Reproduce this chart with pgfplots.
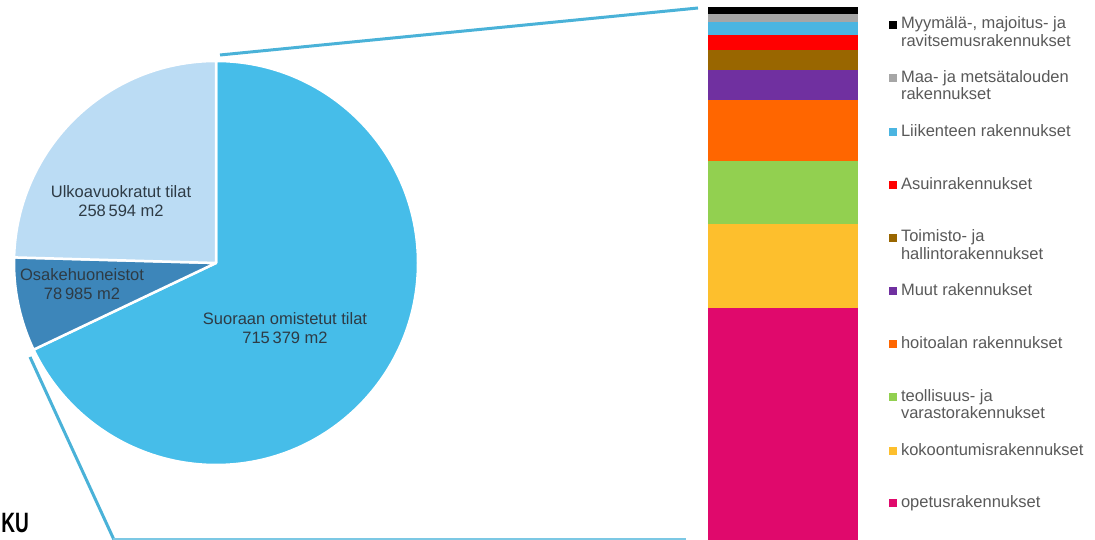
\documentclass[border=0pt]{standalone}
\usepackage{fontspec}
\setmainfont{Liberation Sans}
\usepackage{pgfplots}
\pgfplotsset{compat=1.18}
\usepackage{pgfplotstable}

\definecolor{cSuor}{HTML}{46BDE9}
\definecolor{cOsak}{HTML}{3D86BA}
\definecolor{cUlko}{HTML}{BBDCF4}
\definecolor{cLine}{HTML}{4AB2D8}
\definecolor{cLineB}{HTML}{7CC8E4}
\definecolor{cMyy}{HTML}{000000}
\definecolor{cMaa}{HTML}{A6A6A6}
\definecolor{cLii}{HTML}{4BB5E1}
\definecolor{cAsu}{HTML}{FF0000}
\definecolor{cToi}{HTML}{996600}
\definecolor{cMuu}{HTML}{7030A0}
\definecolor{cHoi}{HTML}{FF6600}
\definecolor{cTeo}{HTML}{92D050}
\definecolor{cKok}{HTML}{FDBF2D}
\definecolor{cOpe}{HTML}{E0096C}
\definecolor{cLeg}{HTML}{595959}
\definecolor{cLab}{HTML}{2E3B45}

% pie: floor area (m2)
\pgfplotstableread{
name value
Suoraan 715379
Osake 78985
Ulko 258594
}\pietable

% bar of pie: share of directly owned space (%)
\pgfplotstableread{
x ope kok teo hoi muu toi asu lii maa myy
0 43.5 15.8 11.8 11.5 5.5 3.9 2.8 2.3 1.6 1.3
}\bartable

\pgfplotstablegetelem{0}{value}\of\pietable \let\vA\pgfplotsretval
\pgfplotstablegetelem{1}{value}\of\pietable \let\vB\pgfplotsretval
\pgfplotstablegetelem{2}{value}\of\pietable \let\vC\pgfplotsretval
\edef\eA{\fpeval{90-360*\vA/(\vA+\vB+\vC)}}
\edef\eB{\fpeval{\eA-360*\vB/(\vA+\vB+\vC)}}
\edef\eC{\fpeval{\eB-360*\vC/(\vA+\vB+\vC)}}

\newcommand{\leg}[1]{\rule[-22pt]{0pt}{52.9pt}\begin{tabular}[t]{@{}l@{}}#1\end{tabular}}

\begin{document}
\begin{tikzpicture}
\useasboundingbox (0,0) rectangle (1095pt,540pt);
\clip (0,0) rectangle (1095pt,540pt);

\begin{axis}[at={(0pt,0pt)}, anchor=south west, x=1pt, y=1pt,
  xmin=0, xmax=1095, ymin=0, ymax=540, hide axis, clip=false]
  % connector lines
  \draw[cLine, line width=3pt] (axis cs:220,485) -- (axis cs:698,532);
  \draw[cLine, line width=3pt] (axis cs:30,183) -- (axis cs:115,-2);
  \draw[cLineB, line width=2pt] (axis cs:113,1) -- (axis cs:686,1);
  % pie
  \begin{scope}[line width=2.5pt, draw=white, line join=round]
  \filldraw[fill=cSuor] (axis cs:216,277) -- ++(90:202pt) arc[start angle=90, end angle=\eA, radius=202pt] -- cycle;
  \filldraw[fill=cOsak] (axis cs:216,277) -- ++(\eA:202pt) arc[start angle=\eA, end angle=\eB, radius=202pt] -- cycle;
  \filldraw[fill=cUlko] (axis cs:216,277) -- ++(\eB:202pt) arc[start angle=\eB, end angle=\eC, radius=202pt] -- cycle;
  \end{scope}
  \begin{scope}[every node/.style={align=center, text=cLab, font=\fontsize{16.5}{19}\selectfont, inner sep=0pt}]
  \node at (axis cs:121,339) {Ulkoavuokratut tilat\\258\,594 m2};
  \node at (axis cs:82,256) {Osakehuoneistot\\78\,985 m2};
  \node at (axis cs:285,212) {Suoraan omistetut tilat\\715\,379 m2};
  \end{scope}
  \node[anchor=base east, font=\fontsize{28}{28}\selectfont\bfseries, xscale=0.68, inner sep=0pt] at (axis cs:29,7) {KU};
\end{axis}

\begin{axis}[at={(708pt,0pt)}, anchor=south west, scale only axis,
  width=150pt, height=533pt, xmin=-0.5, xmax=0.5, ymin=0, ymax=100,
  ybar stacked, bar width=150pt, hide axis, clip=false,
  reverse legend, legend cell align=left,
  legend image code/.code={\fill[#1] (0pt,-4pt) rectangle (8pt,4pt);},
  legend style={at={(axis description cs:1.2067,1.017)}, anchor=north west,
    draw=none, fill=none, inner sep=0pt, outer sep=0pt, row sep=0pt, column sep=4pt,
    font=\fontsize{16.5}{17.5}\selectfont, text=cLeg,
    nodes={inner sep=0pt, text depth={}, text height={}}}]
  \addplot[fill=cOpe, draw=none] table[x=x, y=ope] {\bartable};
  \addlegendentry{\leg{opetusrakennukset}}
  \addplot[fill=cKok, draw=none] table[x=x, y=kok] {\bartable};
  \addlegendentry{\leg{kokoontumisrakennukset}}
  \addplot[fill=cTeo, draw=none] table[x=x, y=teo] {\bartable};
  \addlegendentry{\leg{teollisuus- ja\\varastorakennukset}}
  \addplot[fill=cHoi, draw=none] table[x=x, y=hoi] {\bartable};
  \addlegendentry{\leg{hoitoalan rakennukset}}
  \addplot[fill=cMuu, draw=none] table[x=x, y=muu] {\bartable};
  \addlegendentry{\leg{Muut rakennukset}}
  \addplot[fill=cToi, draw=none] table[x=x, y=toi] {\bartable};
  \addlegendentry{\leg{Toimisto- ja\\hallintorakennukset}}
  \addplot[fill=cAsu, draw=none] table[x=x, y=asu] {\bartable};
  \addlegendentry{\leg{Asuinrakennukset}}
  \addplot[fill=cLii, draw=none] table[x=x, y=lii] {\bartable};
  \addlegendentry{\leg{Liikenteen rakennukset}}
  \addplot[fill=cMaa, draw=none] table[x=x, y=maa] {\bartable};
  \addlegendentry{\leg{Maa- ja metsätalouden\\rakennukset}}
  \addplot[fill=cMyy, draw=none] table[x=x, y=myy] {\bartable};
  \addlegendentry{\leg{Myymälä-, majoitus- ja\\ravitsemusrakennukset}}
\end{axis}
\end{tikzpicture}
\end{document}
